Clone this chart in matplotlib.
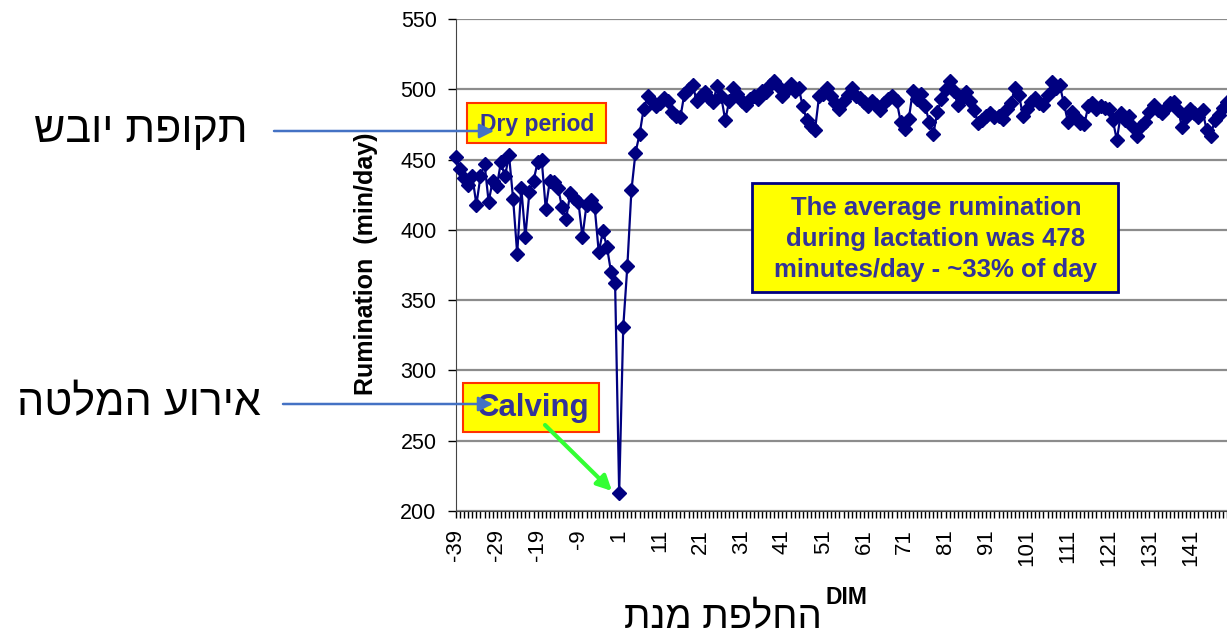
import matplotlib
matplotlib.use("Agg")
import matplotlib.pyplot as plt
from matplotlib.patches import Rectangle, FancyArrowPatch
import numpy as np

# days in milk, one category per day
dim_days = list(range(-39, 151))

rumination_dry = [
    452, 443, 437, 432, 438, 418, 438, 447, 420, 435,
    431, 448, 438, 453, 422, 383, 430, 395, 427, 435,
    448, 450, 415, 435, 434, 430, 416, 408, 426, 423,
    420, 395, 418, 421, 416, 384, 399, 388, 370, 362,
]
rumination_lact = [
    213, 331, 374, 428, 455, 468, 486, 495, 492, 488,
    490, 494, 492, 484, 481, 480, 497, 500, 503, 492,
    495, 498, 494, 491, 502, 495, 478, 492, 501, 497,
    492, 489, 493, 495, 493, 499, 498, 503, 506, 502,
    495, 499, 504, 499, 501, 488, 478, 474, 471, 495,
    497, 501, 495, 490, 486, 492, 496, 501, 495, 494,
    491, 488, 492, 489, 485, 490, 493, 495, 492, 477,
    472, 479, 499, 493, 497, 488, 477, 468, 484, 493,
    500, 506, 499, 489, 494, 498, 492, 485, 476, 478,
    481, 483, 480, 481, 479, 486, 490, 501, 496, 481,
    486, 491, 494, 490, 489, 496, 505, 501, 503, 490,
    477, 484, 480, 476, 475, 488, 490, 486, 488, 487,
    486, 478, 464, 483, 478, 481, 473, 467, 474, 477,
    484, 489, 485, 483, 487, 490, 491, 485, 473, 480,
    486, 483, 480, 485, 471, 467, 478, 482, 487, 491,
]
y_ticks = [200, 250, 300, 350, 400, 450, 500, 550]

note_text = "The average rumination\nduring lactation was 478\nminutes/day - ~33% of day"
dry_label_he = "תקופת יובש"
calving_label_he = "אירוע המלטה"
ration_label_he = "החלפת מנת"

W, H = 1227, 638
NAVY = "#000080"
TEXT_BLUE = "#333399"
ARROW_BLUE = "#4472C4"
HEB_FONT = ["Liberation Sans", "DejaVu Sans"]


def visual(s):
    # matplotlib lays text out left to right, so feed Hebrew in visual order
    return s[::-1]


def fx(x):
    return x / W


def fy(y):
    return 1 - y / H


def box(fig, x0, y0, x1, y1, face, edge, lw):
    fig.add_artist(Rectangle((fx(x0), fy(y1)), (x1 - x0) / W, (y1 - y0) / H,
                             transform=fig.transFigure, facecolor=face,
                             edgecolor=edge, linewidth=lw, zorder=5))


def arrow(fig, start, end, color, lw):
    fig.add_artist(FancyArrowPatch((fx(start[0]), fy(start[1])),
                                   (fx(end[0]), fy(end[1])),
                                   transform=fig.transFigure, arrowstyle="-|>",
                                   color=color, linewidth=lw, mutation_scale=22,
                                   shrinkA=0, shrinkB=0, zorder=8))


values = rumination_dry + rumination_lact
xpos = np.arange(len(values))
px_per_day = 4.117

fig = plt.figure(figsize=(W / 100, H / 100), dpi=100)
ax = fig.add_axes([fx(456), fy(511), (W - 456) / W, (511 - 19) / H])

ax.plot(xpos, values, color=NAVY, linewidth=1.6, marker="D", markersize=7,
        markerfacecolor=NAVY, markeredgecolor=NAVY, zorder=3, clip_on=False)

ax.set_ylim(200, 550)
ax.set_xlim(0.1, 0.1 + (W - 456) / px_per_day)
ax.set_yticks(y_ticks)
ax.set_yticklabels([str(v) for v in y_ticks], fontsize=15.5, family="Liberation Sans")
ax.set_xticks(xpos[::10])
ax.set_xticklabels([str(d) for d in dim_days[::10]], rotation=90, fontsize=16,
                   family="Liberation Sans")
ax.set_xticks(xpos, minor=True)
ax.tick_params(axis="x", which="both", length=5, width=1, direction="out", pad=8)
ax.tick_params(axis="y", length=6, width=1, pad=8)
ax.yaxis.grid(True, color="#8c8c8c", linewidth=1.6, zorder=0)
ax.set_axisbelow(True)
for side in ["top", "right"]:
    ax.spines[side].set_visible(False)
ax.spines["left"].set_color("#444444")
ax.spines["bottom"].set_color("#444444")

fig.text(fx(366), fy(264), "Rumination  (min/day)", rotation=90, fontsize=18,
         fontweight="bold", family="Liberation Sans", ha="center", va="center")
fig.text(fx(846), fy(597), "DIM", fontsize=16.5, fontweight="bold",
         family="Liberation Sans", ha="center", va="center")

# annotation boxes
box(fig, 467, 103, 606, 143, "#FFFF00", "#FF3300", 1.5)
fig.text(fx(537), fy(124), "Dry period", fontsize=16.5, fontweight="bold",
         color=TEXT_BLUE, family="Liberation Sans", ha="center", va="center", zorder=6)

box(fig, 463, 383, 599, 432, "#FFFF00", "#FF3300", 1.5)
fig.text(fx(533), fy(408), "Calving", fontsize=22.5, fontweight="bold",
         color=TEXT_BLUE, family="Liberation Sans", ha="center", va="center", zorder=6)

box(fig, 752, 183, 1118, 292, "#FFFF00", NAVY, 2)
fig.text(fx(936), fy(239), note_text, fontsize=18.5, fontweight="bold",
         color=TEXT_BLUE, family="Liberation Sans", ha="center", va="center",
         linespacing=1.38, zorder=6)

# Hebrew call-outs
fig.text(fx(141), fy(131), visual(dry_label_he), fontsize=31, family=HEB_FONT,
         ha="center", va="center")
fig.text(fx(139), fy(404), visual(calving_label_he), fontsize=31, family=HEB_FONT,
         ha="center", va="center")
fig.text(fx(723), fy(617), visual(ration_label_he), fontsize=27.5, family=HEB_FONT,
         ha="center", va="center")

arrow(fig, (274, 131), (494, 131), ARROW_BLUE, 1.8)
arrow(fig, (283, 404), (493, 404), ARROW_BLUE, 1.8)
arrow(fig, (545, 425), (612, 491), "#33FF33", 3)

fig.savefig("out.png", dpi=100)
